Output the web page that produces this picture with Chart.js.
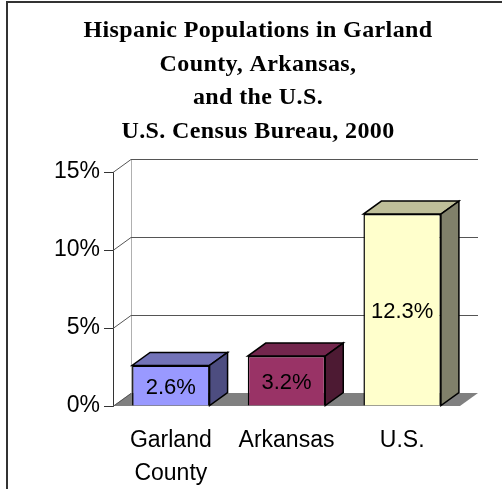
<!DOCTYPE html>
<html>
<head>
<meta charset="utf-8">
<script src="https://cdn.jsdelivr.net/npm/chart.js@4.4.1/dist/chart.umd.min.js"></script>
<style>
  html, body { margin: 0; padding: 0; background: #fff; overflow: hidden; }
  #wrap { position: relative; width: 502px; height: 489px; }
  #frame {
    position: absolute; left: 6px; top: 1px; width: 600px; height: 600px;
    border-left: 2px solid #333; border-top: 2px solid #333;
  }
  canvas { position: absolute; left: 0; top: 0; }
</style>
</head>
<body>
<div id="wrap">
  <div id="frame"></div>
  <canvas id="hispanicChart" width="502" height="489"></canvas>
</div>
<script>
const titleLines = [
  'Hispanic Populations in Garland',
  'County, Arkansas,',
  'and the U.S.',
  'U.S. Census Bureau, 2000'
];
const places = [['Garland', 'County'], 'Arkansas', 'U.S.'];
const hispanicShare = [2.6, 3.2, 12.3];
const yTicks = [0, 5, 10, 15];

const frontColors = ['#9999ff', '#993366', '#ffffcc'];
const topColors = ['#7373b8', '#73264d', '#bfbf99'];
const sideColors = ['#4d4d80', '#4d1a33', '#80806a'];

// depth of the fake 3d box (back plane offset)
const DX = 18;
const DY = -13;

function quad(ctx, pts, fill, stroke, lw) {
  ctx.beginPath();
  ctx.moveTo(pts[0][0], pts[0][1]);
  for (let i = 1; i < pts.length; i++) ctx.lineTo(pts[i][0], pts[i][1]);
  ctx.closePath();
  if (fill) { ctx.fillStyle = fill; ctx.fill(); }
  if (stroke) { ctx.strokeStyle = stroke; ctx.lineWidth = lw; ctx.stroke(); }
}

const box3d = {
  id: 'box3d',
  beforeDatasetsDraw(chart) {
    const { ctx, chartArea: a, scales: { y } } = chart;
    ctx.save();
    // floor
    quad(ctx, [[a.left, a.bottom], [a.right, a.bottom], [a.right + DX, a.bottom + DY], [a.left + DX, a.bottom + DY]], '#808080');
    // back wall left edge
    ctx.strokeStyle = '#b0b0b0';
    ctx.lineWidth = 1;
    ctx.beginPath();
    ctx.moveTo(a.left + DX + 0.5, y.getPixelForValue(yTicks[yTicks.length - 1]) + DY);
    ctx.lineTo(a.left + DX + 0.5, a.bottom + DY);
    ctx.stroke();
    // gridlines: side wall diagonal + back wall line
    ctx.strokeStyle = '#555';
    yTicks.forEach(v => {
      const py = Math.round(y.getPixelForValue(v)) + 0.5;
      ctx.beginPath();
      ctx.moveTo(a.left, py);
      ctx.lineTo(a.left + DX, py + DY);
      if (v > 0) ctx.lineTo(a.right + DX, py + DY);
      ctx.stroke();
    });
    ctx.restore();
  },
  afterDatasetsDraw(chart) {
    const { ctx } = chart;
    const meta = chart.getDatasetMeta(0);
    ctx.save();
    meta.data.forEach((bar, i) => {
      const { x, y, base, width } = bar.getProps(['x', 'y', 'base', 'width'], true);
      const l = x - width / 2, r = x + width / 2;
      quad(ctx, [[l, y], [r, y], [r + DX, y + DY], [l + DX, y + DY]], topColors[i], '#000', 1.5);
      quad(ctx, [[r, y], [r + DX, y + DY], [r + DX, base + DY], [r, base]], sideColors[i], '#000', 1.5);
      ctx.fillStyle = '#000';
      ctx.font = '22px "Liberation Sans", Arial, sans-serif';
      ctx.textAlign = 'center';
      ctx.textBaseline = 'middle';
      ctx.fillText(hispanicShare[i].toFixed(1) + '%', x, (y + base) / 2 + 2);
    });
    ctx.restore();
  },
  afterDraw(chart) {
    const { ctx } = chart;
    ctx.save();
    ctx.fillStyle = '#000';
    ctx.font = 'bold 24px "Liberation Serif", "Times New Roman", serif';
    ctx.textAlign = 'center';
    ctx.textBaseline = 'alphabetic';
    ctx.letterSpacing = '0.4px';
    titleLines.forEach((line, i) => ctx.fillText(line, 258, 37 + i * 33.5));
    ctx.restore();
  }
};

new Chart(document.getElementById('hispanicChart'), {
  type: 'bar',
  data: {
    labels: places,
    datasets: [{
      data: hispanicShare,
      backgroundColor: frontColors,
      borderColor: '#000',
      borderWidth: 1.5,
      categoryPercentage: 0.67,
      barPercentage: 1
    }]
  },
  options: {
    responsive: false,
    animation: false,
    layout: {
      padding: { top: 172, right: 42, bottom: 0, left: 0 }
    },
    plugins: {
      legend: { display: false },
      tooltip: { enabled: false }
    },
    scales: {
      x: {
        grid: { display: false },
        border: { display: false },
        ticks: {
          color: '#000',
          padding: 10,
          font: { family: '"Liberation Sans", Arial, sans-serif', size: 23, lineHeight: 1.43 }
        },
        afterFit: scale => { scale.height = 83; }
      },
      y: {
        min: 0,
        max: 15,
        afterBuildTicks: scale => { scale.ticks = yTicks.map(v => ({ value: v })); },
        grid: { drawOnChartArea: false, drawTicks: true, tickLength: 9, color: '#333' },
        border: { display: true, color: '#333', width: 1 },
        ticks: {
          color: '#000',
          padding: 4,
          font: { family: '"Liberation Sans", Arial, sans-serif', size: 23 },
          callback: v => v + '%'
        },
        afterFit: scale => { scale.width = 113; }
      }
    }
  },
  plugins: [box3d]
});
</script>
</body>
</html>
